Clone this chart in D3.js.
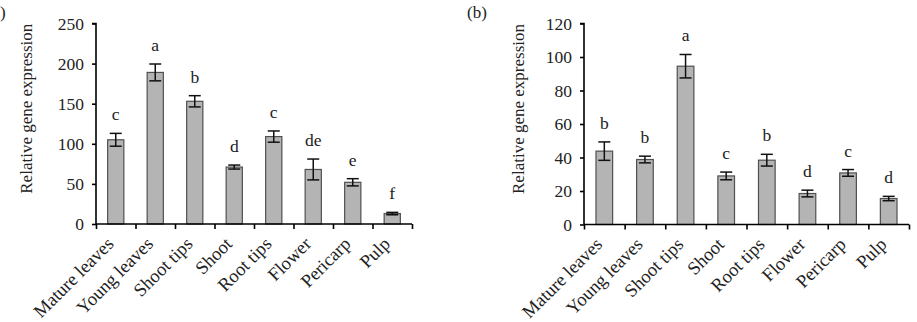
<!DOCTYPE html>
<html>
<head>
<meta charset="utf-8">
<script src="https://cdn.jsdelivr.net/npm/d3@7"></script>
<style>
  body { margin: 0; background: #fff; }
  svg { display: block; font-family: "Liberation Serif", serif; }
</style>
</head>
<body>
<div id="chart"></div>
<script>
// Data
const tissues = ['Mature leaves', 'Young leaves', 'Shoot tips', 'Shoot', 'Root tips', 'Flower', 'Pericarp', 'Pulp'];

const valuesA = [105, 189, 153, 71, 109, 68, 52, 13];
const errorsA = [8, 10.5, 7, 2.5, 7, 13, 4.5, 1.5];
const lettersA = ['c', 'a', 'b', 'd', 'c', 'de', 'e', 'f'];
const ticksA = [0, 50, 100, 150, 200, 250];

const valuesB = [43.8, 38.8, 94.5, 29, 38.4, 18.5, 30.8, 15.5];
const errorsB = [5.5, 2, 7, 2.3, 3.5, 2, 2, 1.3];
const lettersB = ['b', 'b', 'a', 'c', 'b', 'd', 'c', 'd'];
const ticksB = [0, 20, 40, 60, 80, 100, 120];

const svg = d3.select('#chart')
  .append('svg')
  .attr('width', 917)
  .attr('height', 322);

// panel drawing
function drawPanel(opts) {
  const { left, right, top, bottom, yMax, values, errors, letters, ticks, panelLabel, labelX, titleX } = opts;
  const g = svg.append('g');

  const x = d3.scaleBand().domain(tissues).range([left, right]).paddingInner(0).paddingOuter(0);
  const xEdge = d3.scaleLinear().domain([0, tissues.length]).range([left, right]);
  const y = d3.scaleLinear().domain([0, yMax]).range([bottom, top]);
  const barW = x.bandwidth() * 0.41;
  const capW = 12;

  // bars
  g.selectAll('.bar')
    .data(values)
    .enter()
    .append('rect')
    .attr('x', (d, i) => x(tissues[i]) + (x.bandwidth() - barW) / 2)
    .attr('y', d => y(d))
    .attr('width', barW)
    .attr('height', d => bottom - y(d))
    .attr('fill', '#b4b4b4')
    .attr('stroke', '#505050')
    .attr('stroke-width', 1.2);

  // error bars
  const eb = g.selectAll('.err')
    .data(values)
    .enter()
    .append('g')
    .attr('stroke', '#111')
    .attr('stroke-width', 1.5);
  eb.append('line')
    .attr('x1', (d, i) => x(tissues[i]) + x.bandwidth() / 2)
    .attr('x2', (d, i) => x(tissues[i]) + x.bandwidth() / 2)
    .attr('y1', (d, i) => y(d - errors[i]))
    .attr('y2', (d, i) => y(d + errors[i]));
  eb.append('line')
    .attr('x1', (d, i) => x(tissues[i]) + x.bandwidth() / 2 - capW / 2)
    .attr('x2', (d, i) => x(tissues[i]) + x.bandwidth() / 2 + capW / 2)
    .attr('y1', (d, i) => y(d + errors[i]))
    .attr('y2', (d, i) => y(d + errors[i]));
  eb.append('line')
    .attr('x1', (d, i) => x(tissues[i]) + x.bandwidth() / 2 - capW / 2)
    .attr('x2', (d, i) => x(tissues[i]) + x.bandwidth() / 2 + capW / 2)
    .attr('y1', (d, i) => y(d - errors[i]))
    .attr('y2', (d, i) => y(d - errors[i]));

  // significance letters
  g.selectAll('.sig')
    .data(letters)
    .enter()
    .append('text')
    .attr('x', (d, i) => x(tissues[i]) + x.bandwidth() / 2)
    .attr('y', (d, i) => y(values[i] + errors[i]) - 13)
    .attr('text-anchor', 'middle')
    .attr('font-size', '17.5px')
    .attr('fill', '#222')
    .text(d => d);

  // y axis
  const yAxis = g.append('g')
    .attr('transform', `translate(${left},0)`)
    .call(d3.axisLeft(y).tickValues(ticks).tickSize(4).tickPadding(8));
  yAxis.select('.domain').attr('stroke', '#000').attr('stroke-width', 1.6).attr('d', `M-4,${top}H0V${bottom}`);
  yAxis.selectAll('.tick line').attr('stroke', '#000').attr('stroke-width', 1.6);
  yAxis.selectAll('.tick text')
    .attr('font-family', '"Liberation Serif", serif')
    .attr('font-size', '17.5px')
    .attr('fill', '#222');

  // x axis: ticks at band edges
  const xAxis = g.append('g')
    .attr('transform', `translate(0,${bottom})`)
    .call(d3.axisBottom(xEdge).tickValues(d3.range(tissues.length + 1)).tickSize(5).tickFormat(''));
  xAxis.select('.domain').attr('stroke', '#000').attr('stroke-width', 1.6).attr('d', `M${left},0H${right}`);
  xAxis.selectAll('.tick line').attr('stroke', '#000').attr('stroke-width', 1.6);

  // category labels
  g.selectAll('.cat')
    .data(tissues)
    .enter()
    .append('text')
    .attr('transform', d => `translate(${x(d) + x.bandwidth() / 2 - 1},${bottom + 21}) rotate(-45)`)
    .attr('text-anchor', 'end')
    .attr('font-size', '18.5px')
    .attr('fill', '#222')
    .text(d => d);

  // y label
  g.append('text')
    .attr('transform', `translate(${labelX},${(top + bottom) / 2 - 15}) rotate(-90)`)
    .attr('text-anchor', 'middle')
    .attr('font-size', '17px')
    .attr('fill', '#222')
    .text('Relative gene expression');

  // panel label
  g.append('text')
    .attr('x', titleX)
    .attr('y', 18)
    .attr('font-size', '17px')
    .attr('fill', '#222')
    .text(panelLabel);
}

drawPanel({
  left: 96, right: 412, top: 23.5, bottom: 224, yMax: 250,
  values: valuesA, errors: errorsA, letters: lettersA, ticks: ticksA,
  panelLabel: ')', labelX: 32, titleX: 0
});

drawPanel({
  left: 584, right: 909, top: 23.5, bottom: 224.5, yMax: 120,
  values: valuesB, errors: errorsB, letters: lettersB, ticks: ticksB,
  panelLabel: '(b)', labelX: 524, titleX: 467
});
</script>
</body>
</html>
